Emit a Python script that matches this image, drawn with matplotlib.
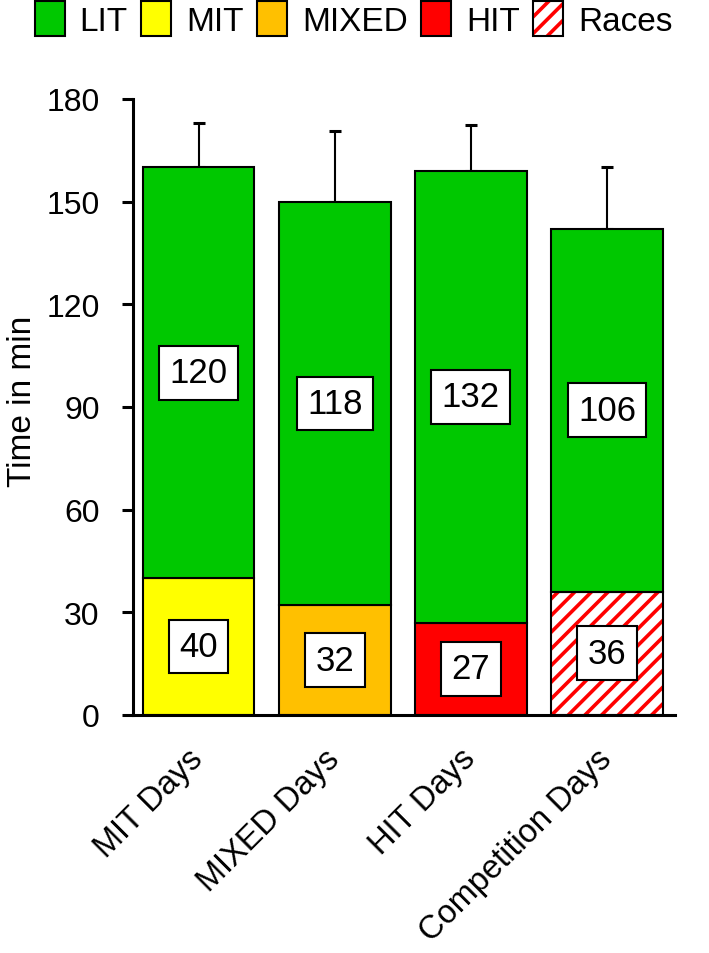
import matplotlib.pyplot as plt
from matplotlib.patches import Patch

plt.rcParams['font.family'] = ['Liberation Sans', 'DejaVu Sans']
plt.rcParams['hatch.linewidth'] = 2.6

days = ["MIT Days", "MIXED Days", "HIT Days", "Competition Days"]
lit = [120, 118, 132, 106]
intense = [40, 32, 27, 36]
total_sd = [13, 20.5, 13.5, 18]
intense_kind = ["MIT", "MIXED", "HIT", "Races"]

colors = {"LIT": "#00C800", "MIT": "#FFFF00", "MIXED": "#FFC000", "HIT": "#FF0000"}

fig = plt.figure(figsize=(7.09, 9.54), dpi=100)
ax = fig.add_axes([0.1876, 0.2495, 0.7644, 0.6457])

x = list(range(len(days)))
w = 0.82

for i, kind in enumerate(intense_kind):
    if kind == "Races":
        ax.bar(x[i], intense[i], w, color="white", edgecolor="#FF0000", hatch="//", linewidth=0, zorder=2)
        ax.bar(x[i], intense[i], w, fill=False, edgecolor="black", linewidth=1.5, zorder=3)
    else:
        ax.bar(x[i], intense[i], w, color=colors[kind], edgecolor="black", linewidth=1.5, zorder=2)
ax.bar(x, lit, w, bottom=intense, color=colors["LIT"], edgecolor="black", linewidth=1.5, zorder=2)

tops = [a + b for a, b in zip(lit, intense)]
ax.errorbar(x, tops, yerr=[[0] * 4, total_sd], fmt="none", ecolor="black", elinewidth=1.5,
            capsize=4.5, capthick=2.2, zorder=1)

box = dict(boxstyle="square,pad=0.3", facecolor="white", edgecolor="black", linewidth=1.5)
for i in x:
    ax.text(x[i], intense[i] + lit[i] / 2, str(lit[i]), ha="center", va="center", fontsize=25, bbox=box, zorder=4)
    ax.text(x[i], intense[i] / 2, str(intense[i]), ha="center", va="center", fontsize=25, bbox=box, zorder=4)

ax.set_xlim(-0.482, 3.50)
ax.set_ylim(0, 180)
ax.set_yticks([0, 30, 60, 90, 120, 150, 180])
ax.set_xticks(x)
ax.set_xticklabels(days, rotation=45, ha="right", va="center", rotation_mode="anchor", fontsize=23.5)
ax.tick_params(axis="x", length=0, pad=28)
ax.tick_params(axis="y", length=8, width=2.2, labelsize=23, pad=16)
ax.set_ylabel("Time in min", fontsize=24)
ax.yaxis.set_label_coords(-0.176, 0.51)
for s in ["top", "right"]:
    ax.spines[s].set_visible(False)
for s in ["left", "bottom"]:
    ax.spines[s].set_linewidth(2.2)

handles = [Patch(facecolor=colors["LIT"], edgecolor="black", linewidth=1.5),
           Patch(facecolor=colors["MIT"], edgecolor="black", linewidth=1.5),
           Patch(facecolor=colors["MIXED"], edgecolor="black", linewidth=1.5),
           Patch(facecolor=colors["HIT"], edgecolor="black", linewidth=1.5),
           (Patch(facecolor="white", edgecolor="#FF0000", hatch="//", linewidth=0),
            Patch(fill=False, edgecolor="black", linewidth=1.5))]
fig.legend(handles, ["LIT", "MIT", "MIXED", "HIT", "Races"], loc="upper left", bbox_to_anchor=(0.03, 1.012),
           ncol=5, frameon=False, fontsize=24, handlelength=0.9, handleheight=1.25, handletextpad=0.45,
           columnspacing=0.4, borderaxespad=0)

fig.savefig("out.png", dpi=100)
